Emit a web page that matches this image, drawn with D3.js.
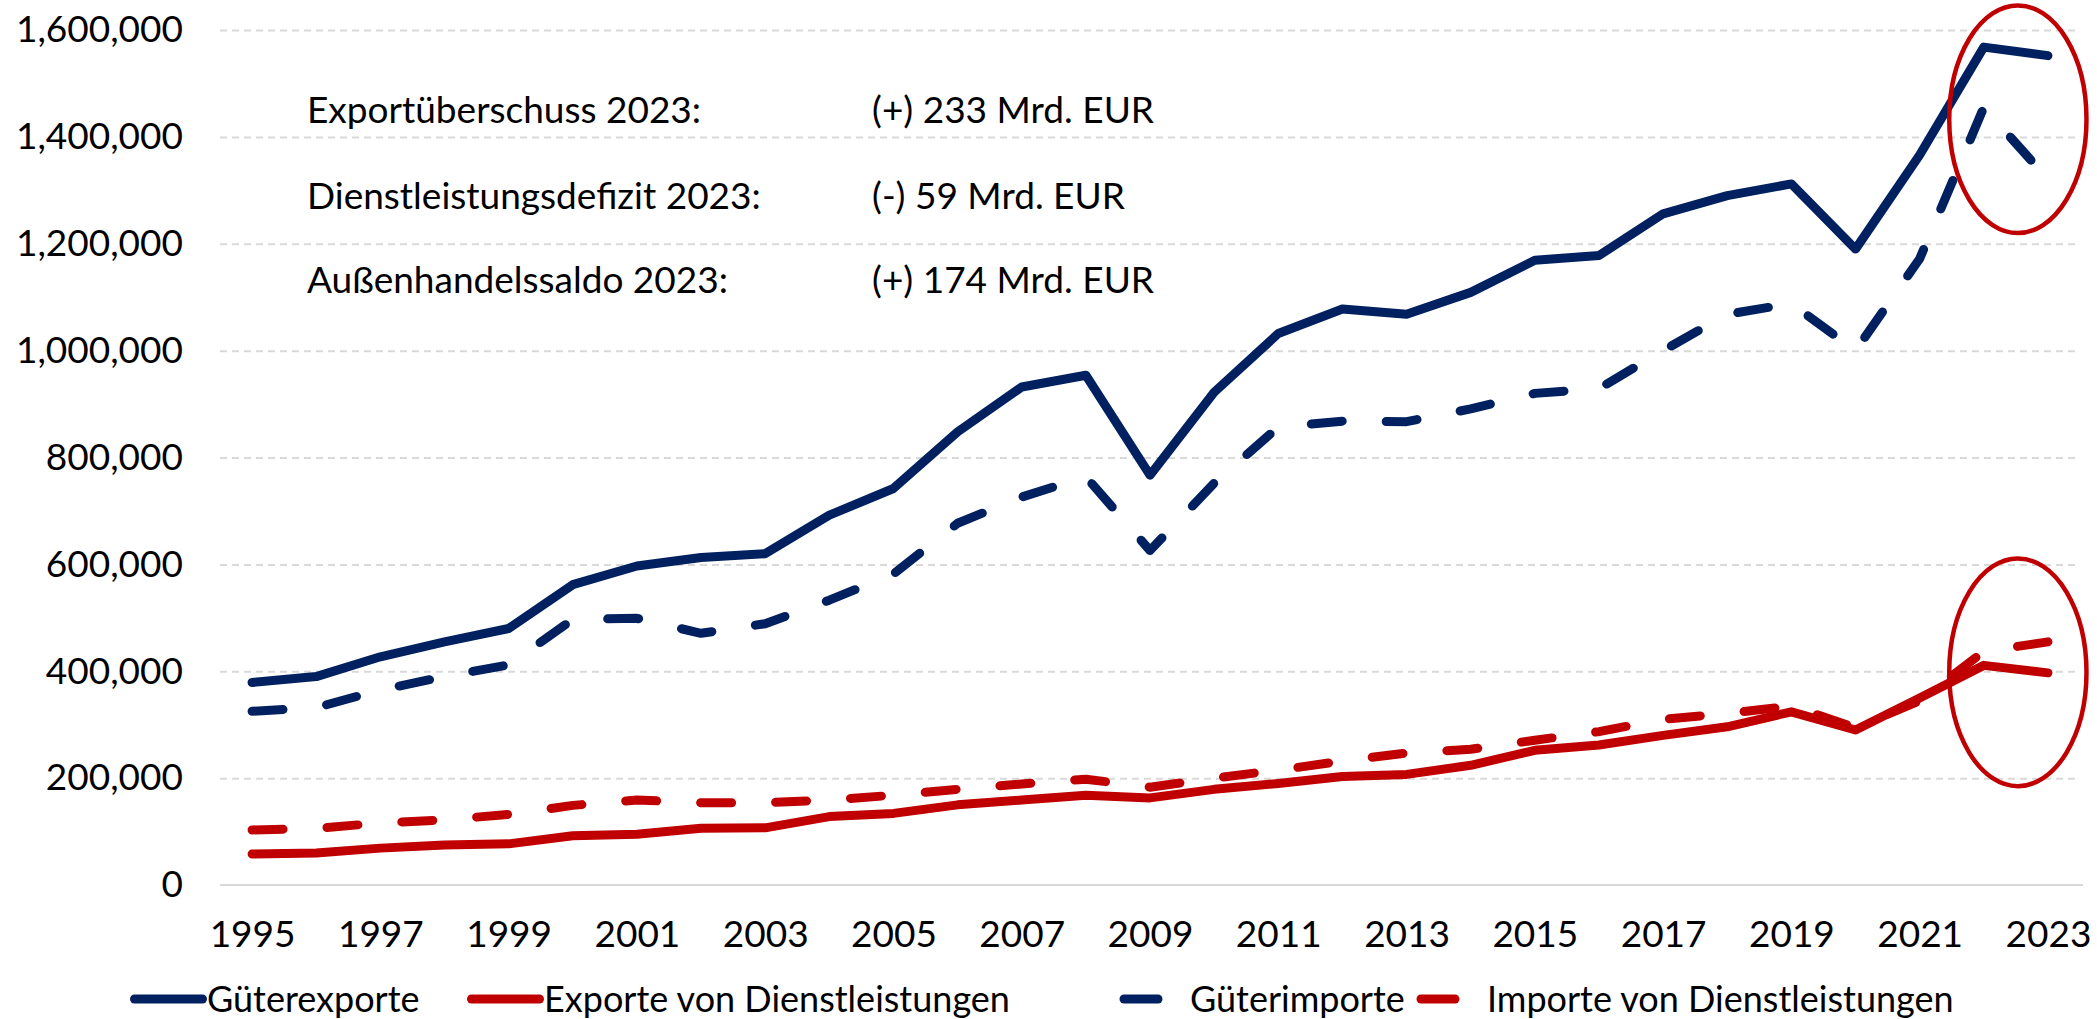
<!DOCTYPE html>
<html>
<head>
<meta charset="utf-8">
<script src="https://cdn.jsdelivr.net/npm/d3@7"></script>
<style>
  body { margin: 0; background: #fff; }
  svg { display: block; font-family: Lato, "Open Sans", sans-serif; }
</style>
</head>
<body>
<svg id="chart" width="2097" height="1019"></svg>
<script>
// --- data (Mio. EUR) ---
var years = [1995, 1996, 1997, 1998, 1999, 2000, 2001, 2002, 2003, 2004, 2005, 2006, 2007, 2008, 2009,
             2010, 2011, 2012, 2013, 2014, 2015, 2016, 2017, 2018, 2019, 2020, 2021, 2022, 2023];
var yearLabels = [1995, 1997, 1999, 2001, 2003, 2005, 2007, 2009, 2011, 2013, 2015, 2017, 2019, 2021, 2023];
var yTicks = [0, 200000, 400000, 600000, 800000, 1000000, 1200000, 1400000, 1600000];

var gueterexporte = [379000, 390000, 427000, 455000, 480000, 562000, 597000, 613000, 620000, 692000,
                     742000, 848000, 932000, 954000, 767000, 922000, 1032000, 1078000, 1068000, 1109000,
                     1169000, 1178000, 1256000, 1290000, 1312000, 1190000, 1366000, 1568000, 1552000];
var gueterimporte = [325000, 332000, 365000, 390000, 412000, 497000, 499000, 471000, 489000, 533000,
                     582000, 677000, 726000, 764000, 626000, 752000, 857000, 868000, 867000, 891000,
                     920000, 929000, 1000000, 1068000, 1088000, 1000000, 1172000, 1455000, 1321000];
var dlExporte = [58000, 60000, 69000, 75000, 77000, 92000, 95000, 106000, 107000, 128000,
                 134000, 150000, 159000, 168000, 163000, 179000, 190000, 203000, 207000, 224000,
                 252000, 262000, 280000, 296000, 324000, 290000, 350000, 411000, 397000];
var dlImporte = [103000, 106000, 116000, 122000, 132000, 149000, 159000, 154000, 154000, 159000,
                 168000, 179000, 189000, 198000, 183000, 200000, 215000, 232000, 247000, 254000,
                 271000, 287000, 310000, 321000, 335000, 294000, 345000, 437000, 455000];

var seriesNames = ["Güterexporte", "Exporte von Dienstleistungen", "Güterimporte", "Importe von Dienstleistungen"];
var summaryLabels = ["Exportüberschuss 2023:", "Dienstleistungsdefizit 2023:", "Außenhandelssaldo 2023:"];
var summaryValues = ["(+) 233 Mrd. EUR", "(-) 59 Mrd. EUR", "(+) 174 Mrd. EUR"];
// highlighted 2022-2023 areas (centre value, half height in value units)
var highlightCentres = [1433000, 398000];
var highlightHalf = 213000;

// --- layout ---
var navy = "#002060", red = "#C00000";
var plotLeft = 220, plotRight = 2080, plotTop = 30, plotBottom = 885;
var fontSize = 37;

const svg = d3.select('#chart');

var x = d3.scalePoint().domain(years).range([plotLeft, plotRight]).padding(0.5);
var y = d3.scaleLinear().domain([0, 1600000]).range([plotBottom, plotTop]);

// gridlines
svg.append('g')
  .attr('transform', 'translate(' + plotLeft + ',0)')
  .call(d3.axisLeft(y).tickValues(yTicks.slice(1)).tickSize(-(plotRight - plotLeft)).tickFormat(''))
  .call(g => g.select('.domain').remove())
  .selectAll('line')
  .attr('stroke', '#d9d9d9')
  .attr('stroke-width', 2)
  .attr('stroke-dasharray', '7,5');

// zero line
svg.append('line')
  .attr('x1', plotLeft).attr('x2', plotRight + 3)
  .attr('y1', y(0)).attr('y2', y(0))
  .attr('stroke', '#d9d9d9').attr('stroke-width', 2);

// y axis labels
var yAxis = svg.append('g')
  .attr('transform', 'translate(' + plotLeft + ',0)')
  .call(d3.axisLeft(y).tickValues(yTicks).tickSize(0).tickPadding(37).tickFormat(d3.format(',')))
  .attr('font-family', null).attr('font-size', fontSize);
yAxis.select('.domain').remove();
yAxis.selectAll('text').attr('fill', '#000');

// x axis labels
var xAxis = svg.append('g')
  .attr('transform', 'translate(0,' + plotBottom + ')')
  .call(d3.axisBottom(x).tickValues(yearLabels).tickSize(0).tickPadding(36))
  .attr('font-family', null).attr('font-size', fontSize);
xAxis.select('.domain').remove();
xAxis.selectAll('text').attr('fill', '#000');

// lines
var series = [
  {name: seriesNames[0], values: gueterexporte, color: navy, dashed: false},
  {name: seriesNames[1], values: dlExporte, color: red, dashed: false},
  {name: seriesNames[2], values: gueterimporte, color: navy, dashed: true},
  {name: seriesNames[3], values: dlImporte, color: red, dashed: true}
];

var line = d3.line()
  .x((d, i) => x(years[i]))
  .y(d => y(d));

// dashed ones first, solid lines on top
var drawOrder = [series[3], series[2], series[1], series[0]];
svg.append('g').selectAll('path')
  .data(drawOrder)
  .join('path')
  .attr('d', d => line(d.values))
  .attr('fill', 'none')
  .attr('stroke', d => d.color)
  .attr('stroke-width', 9)
  .attr('stroke-linecap', 'round')
  .attr('stroke-linejoin', 'round')
  .attr('stroke-dasharray', d => d.dashed ? '31,44' : null);

// highlight ellipses
var step = x.step();
svg.append('g').selectAll('ellipse')
  .data(highlightCentres)
  .join('ellipse')
  .attr('cx', (x(2022) + x(2023)) / 2 + 2)
  .attr('cy', d => y(d))
  .attr('rx', step * 1.07)
  .attr('ry', y(0) - y(highlightHalf))
  .attr('fill', 'none')
  .attr('stroke', red)
  .attr('stroke-width', 4.5);

// summary text
var summary = svg.append('g').attr('font-size', fontSize).attr('fill', '#000');
var baseLines = [123, 209, 293];
summary.selectAll('text.lbl')
  .data(summaryLabels)
  .join('text')
  .attr('class', 'lbl')
  .attr('x', 307)
  .attr('y', (d, i) => baseLines[i])
  .text(d => d);
summary.selectAll('text.val')
  .data(summaryValues)
  .join('text')
  .attr('class', 'val')
  .attr('x', 872)
  .attr('y', (d, i) => baseLines[i])
  .text(d => d);

// legend
var legendTextX = [207, 544, 1190, 1487];
var legendY = 999;
var legend = svg.append('g').selectAll('g')
  .data(series)
  .join('g')
  .attr('transform', (d, i) => 'translate(' + legendTextX[i] + ',' + legendY + ')');
// solid: long sample touching the text; dashed: one dash set a bit off the text
legend.append('line')
  .attr('x1', d => d.dashed ? -66 : -72.5)
  .attr('x2', d => d.dashed ? -32 : -4.5)
  .attr('y1', 0).attr('y2', 0)
  .attr('stroke', d => d.color)
  .attr('stroke-width', 9)
  .attr('stroke-linecap', 'round');
legend.append('text')
  .attr('x', 0)
  .attr('dy', '0.35em')
  .attr('font-size', 36)
  .attr('fill', '#000')
  .text(d => d.name);
</script>
</body>
</html>
